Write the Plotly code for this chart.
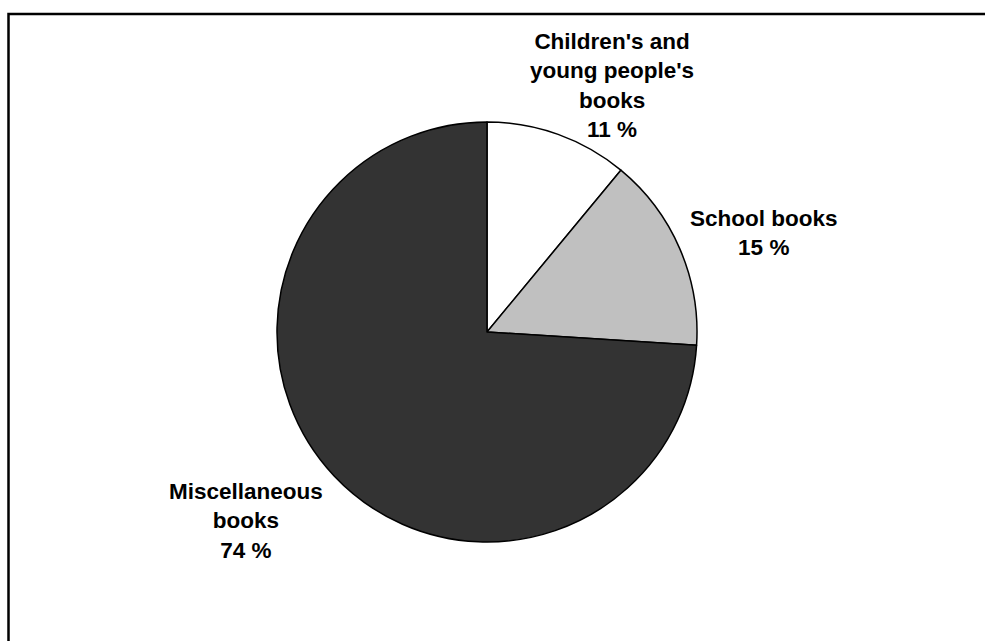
import plotly.graph_objects as go

categories = ["Children's and<br>young people's<br>books", "School books", "Miscellaneous<br>books"]
values = [11, 15, 74]
colors = ["#ffffff", "#c0c0c0", "#333333"]

W, H = 985, 641
cx, cy, r = 487, 332, 210

fig = go.Figure(go.Pie(
    labels=categories,
    values=values,
    sort=False,
    direction="clockwise",
    rotation=0,
    marker=dict(colors=colors, line=dict(color="#000000", width=1.5)),
    textinfo="none",
    hoverinfo="label+percent",
    domain=dict(x=[(cx - r) / W, (cx + r) / W], y=[(H - cy - r) / H, (H - cy + r) / H]),
    showlegend=False,
))

label_pos = [(612, 85), (764, 233), (246, 521)]
annotations = []
for cat, val, (px, py) in zip(categories, values, label_pos):
    annotations.append(dict(
        x=px / W, y=(H - py) / H, xref="paper", yref="paper",
        text=f"<b>{cat}<br>{val} %</b>", showarrow=False,
        xanchor="center", yanchor="middle", align="center",
        font=dict(family="Liberation Sans, Arial, sans-serif", size=22.5, color="#000000"),
    ))
fig.update_layout(
    width=W, height=H,
    margin=dict(l=0, r=0, t=0, b=0),
    paper_bgcolor="#ffffff", plot_bgcolor="#ffffff",
    annotations=annotations,
    shapes=[dict(type="rect", xref="paper", yref="paper",
                 x0=8.5 / W, x1=1.05, y0=-0.05, y1=(H - 14) / H,
                 line=dict(color="#000000", width=2.5), fillcolor="rgba(0,0,0,0)")],
)
fig.write_html("out.html", config={"displayModeBar": False},
               post_script="document.body.style.margin='0';document.body.style.overflow='hidden';")
